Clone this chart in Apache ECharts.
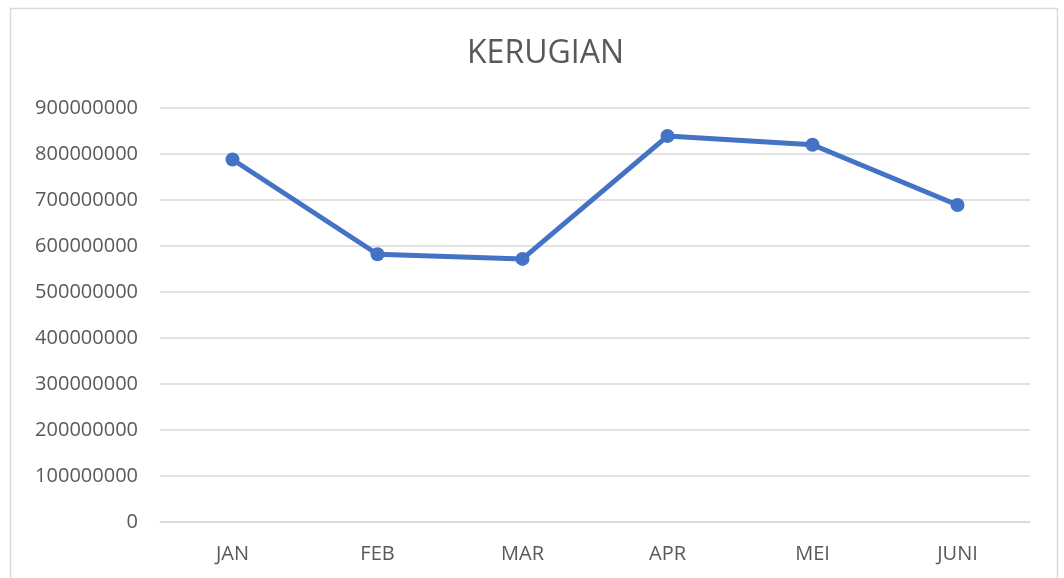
<!DOCTYPE html>
<html>
<head>
<meta charset="utf-8">
<script src="https://cdn.jsdelivr.net/npm/echarts@6/dist/echarts.min.js"></script>
<style>
html, body { margin: 0; padding: 0; background: #fff; }
#chart { width: 1064px; height: 578px; }
</style>
</head>
<body>
<div id="chart"></div>
<script>
var months = ['JAN', 'FEB', 'MAR', 'APR', 'MEI', 'JUNI'];
var kerugian = [788000000, 582000000, 572000000, 839000000, 820000000, 689000000];

var myChart = echarts.init(document.getElementById('chart'));

var option = {
    backgroundColor: '#fff',
    animation: false,
    // frame around the chart area
    graphic: [{
        type: 'rect',
        shape: { x: 10.5, y: 8.5, width: 1047, height: 620 },
        style: { fill: 'none', stroke: '#d9d9d9', lineWidth: 1.5 },
        silent: true
    }],
    title: {
        text: 'KERUGIAN',
        left: 462,
        top: 33,
        textStyle: {
            fontFamily: 'Open Sans',
            fontWeight: 'normal',
            fontSize: 32,
            color: '#595959'
        }
    },
    grid: {
        left: 160,
        right: 34,
        top: 108,
        bottom: 56
    },
    xAxis: {
        type: 'category',
        data: months,
        boundaryGap: true,
        axisTick: { show: false },
        axisLine: { lineStyle: { color: '#d9d9d9', width: 1.5 } },
        axisLabel: {
            margin: 22,
            fontFamily: 'Open Sans',
            fontSize: 20,
            color: '#595959'
        }
    },
    yAxis: {
        type: 'value',
        min: 0,
        max: 900000000,
        interval: 100000000,
        axisLine: { show: false },
        axisTick: { show: false },
        splitLine: { lineStyle: { color: '#d9d9d9', width: 1.5 } },
        axisLabel: {
            margin: 22,
            fontFamily: 'Open Sans',
            fontSize: 20,
            color: '#595959',
            formatter: function (v) { return String(v); }
        }
    },
    series: [{
        name: 'KERUGIAN',
        type: 'line',
        data: kerugian,
        symbol: 'circle',
        symbolSize: 14,
        lineStyle: { color: '#4472c4', width: 5 },
        itemStyle: { color: '#4472c4' }
    }]
};

myChart.setOption(option);
</script>
</body>
</html>
